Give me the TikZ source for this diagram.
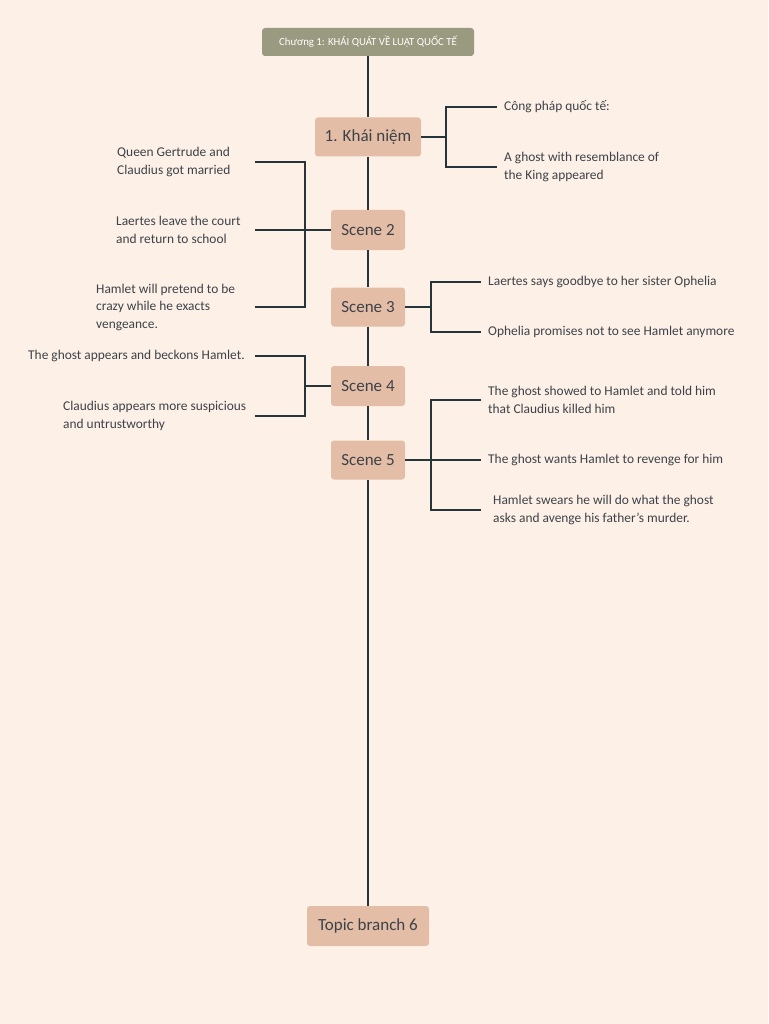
\documentclass[tikz,border=0pt]{standalone}
\usepackage{fontspec}
\setmainfont{Carlito}
\usepackage{tikz}
\usetikzlibrary{positioning,calc}

\definecolor{paper}{RGB}{253,240,231}
\definecolor{topicfill}{RGB}{228,189,166}
\definecolor{rootfill}{RGB}{154,154,128}
\definecolor{linecol}{RGB}{38,52,60}
\definecolor{textcol}{RGB}{60,66,72}

\begin{document}
\begin{tikzpicture}[
  x=1pt, y=-1pt,
  rootbox/.style={rectangle, rounded corners=3pt, fill=rootfill, text=white,
    minimum width=212pt, minimum height=28pt, inner sep=0pt,
    font=\fontsize{10.8}{12}\selectfont},
  scenebox/.style={rectangle, rounded corners=3pt, fill=topicfill, text=textcol,
    minimum width=74pt, minimum height=40pt, inner sep=0pt,
    font=\fontsize{17}{20}\selectfont},
  leaf/.style={align=left, text=textcol, inner ysep=0pt, inner xsep=0pt,
    font=\fontsize{13.4}{17.5}\selectfont},
  trunk/.style={draw=linecol, line width=2pt},
  branch/.style={draw=linecol, line width=1.5pt}
]
  % background and page size
  \fill[paper] (0,0) rectangle (768,1024);
  \useasboundingbox (0,0) rectangle (768,1024);

  % main topics
  \node[rootbox] (root) at (368,42) {Chương 1: KHÁI QUÁT VỀ LUẬT QUỐC TẾ};
  \node[scenebox, minimum width=106pt, minimum height=39pt] (k1) at (368,137) {1. Khái niệm};
  \node[scenebox] (s2) at (368,230) {Scene 2};
  \node[scenebox, minimum height=39pt] (s3) at (368,307) {Scene 3};
  \node[scenebox] (s4) at (368,386) {Scene 4};
  \node[scenebox, minimum height=39pt] (s5) at (368,460) {Scene 5};
  \node[scenebox, minimum width=122pt] (t6) at (368,926) {Topic branch 6};

  \draw[trunk] (root) -- (k1) -- (s2) -- (s3) -- (s4) -- (s5) -- (t6);

  % junctions and line ends
  \coordinate (j1) at (446,137);
  \coordinate (j2) at (305,230);
  \coordinate (j3) at (431,307);
  \coordinate (j4) at (305,386);
  \coordinate (j5) at (431,460);
  \coordinate (lend) at (255,0);

  % 1. Khai niem
  \node[leaf, anchor=west, inner xsep=7pt] (k1a) at (497,107) {Công pháp quốc tế:};
  \node[leaf, anchor=west, inner xsep=7pt] (k1b) at (497,167) {A ghost with resemblance of\\the King appeared};
  \draw[branch] (k1.east) -- (j1);
  \draw[branch] (j1) |- (k1a.west);
  \draw[branch] (j1) |- (k1b.west);

  % Scene 2
  \node[leaf, anchor=west] (s2a) at (117,162) {Queen Gertrude and\\Claudius got married};
  \node[leaf, anchor=west] (s2b) at (116,230) {Laertes leave the court\\and return to school};
  \node[leaf, anchor=west] (s2c) at (96,307) {Hamlet will pretend to be\\crazy while he exacts\\vengeance.};
  \draw[branch] (s2.west) -- (s2b.west -| lend);
  \draw[branch] (j2) |- (s2a.west -| lend);
  \draw[branch] (j2) |- (s2c.west -| lend);

  % Scene 3
  \node[leaf, anchor=west, inner xsep=7pt] (s3a) at (481,282) {Laertes says goodbye to her sister Ophelia};
  \node[leaf, anchor=west, inner xsep=7pt] (s3b) at (481,332) {Ophelia promises not to see Hamlet anymore};
  \draw[branch] (s3.east) -- (j3);
  \draw[branch] (j3) |- (s3a.west);
  \draw[branch] (j3) |- (s3b.west);

  % Scene 4
  \node[leaf, anchor=west] (s4a) at (28,356) {The ghost appears and beckons Hamlet.};
  \node[leaf, anchor=west] (s4b) at (63,416) {Claudius appears more suspicious\\and untrustworthy};
  \draw[branch] (s4.west) -- (j4);
  \draw[branch] (j4) |- (s4a.west -| lend);
  \draw[branch] (j4) |- (s4b.west -| lend);

  % Scene 5
  \node[leaf, anchor=west, inner xsep=7pt] (s5a) at (481,400) {The ghost showed to Hamlet and told him\\that Claudius killed him};
  \node[leaf, anchor=west, inner xsep=7pt] (s5b) at (481,460) {The ghost wants Hamlet to revenge for him};
  \node[leaf, anchor=west, inner xsep=12pt] (s5c) at (481,510) {Hamlet swears he will do what the ghost\\asks and avenge his father's murder.};
  \draw[branch] (s5.east) -- (s5b.west);
  \draw[branch] (j5) |- (s5a.west);
  \draw[branch] (j5) |- (s5c.west);
\end{tikzpicture}
\end{document}
